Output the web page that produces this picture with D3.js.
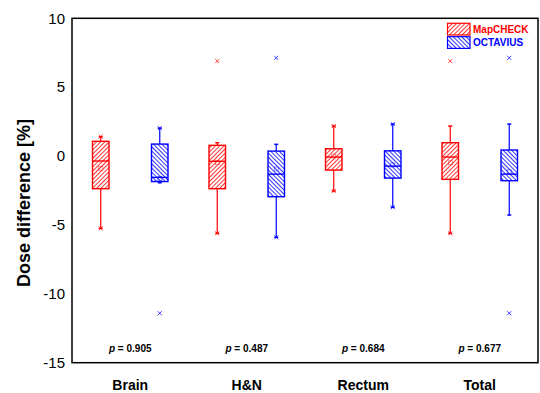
<!DOCTYPE html>
<html lang="en">
  <head>
    <meta charset="utf-8">
    <title>Dose difference</title>
    <script src="https://d3js.org/d3.v7.min.js"></script>
    <style>
      body { margin: 0; background: white; }
      text { font-family: Arial, "Liberation Sans", sans-serif; }
    </style>
  </head>
  <body>
    <script>
      const categories = ["Brain", "H&N", "Rectum", "Total"];
      const seriesNames = ["MapCHECK", "OCTAVIUS"];
      const seriesColors = ["#ff0000", "#0000ff"];
      const yTicks = [10, 5, 0, -5, -10, -15];
      const pValues = ["0.905", "0.487", "0.684", "0.677"];

      // box stats per category: [whiskerLow, q1, median, q3, whiskerHigh, mean]
      const mapcheck = [
        [-5.25, -2.37, -0.36, 1.07, 1.40, -0.89],
        [-5.61, -2.37, -0.38, 0.78, 0.97, -0.49],
        [-2.54, -1.02, -0.07, 0.53, 2.18, 0.0],
        [-5.61, -1.69, -0.07, 0.97, 2.18, -0.49]
      ];
      const octavius = [
        [-1.94, -1.85, -1.55, 0.87, 2.03, -1.62],
        [-5.90, -2.95, -1.31, 0.36, 0.85, -0.94],
        [-3.72, -1.60, -0.73, 0.38, 2.32, -0.65],
        [-4.28, -1.79, -1.31, 0.44, 2.32, -1.14]
      ];
      // min / max markers (x)
      const mapcheckExtremes = [[1.42, -5.25], [6.89, -5.61], [2.18, -2.54], [6.89, -5.61]];
      const octaviusExtremes = [[2.03, -11.41], [7.13, -5.90], [2.32, -3.72], [7.13, -11.41]];

      const width = 540, height = 393;
      const plotLeft = 72, plotRight = 538, plotTop = 18.3, plotBottom = 362.7;

      const svg = d3.select("body").append("svg")
                    .attr("width", width)
                    .attr("height", height);

      const defs = svg.append("defs");
      const hatch = (id, color, angle) => {
        const p = defs.append("pattern")
                      .attr("id", id)
                      .attr("patternUnits", "userSpaceOnUse")
                      .attr("width", 3).attr("height", 3)
                      .attr("patternTransform", `rotate(${angle})`);
        p.append("line")
         .attr("x1", 0.5).attr("y1", 0).attr("x2", 0.5).attr("y2", 3)
         .attr("stroke", color).attr("stroke-width", 0.8);
      };
      hatch("hatch0", seriesColors[0], 45);
      hatch("hatch1", seriesColors[1], -45);

      const x = d3.scaleBand().domain(categories).range([plotLeft, plotRight]);
      const y = d3.scaleLinear().domain([-15, 10]).range([plotBottom, plotTop]);
      const offset = [-29.5, 29.5];
      const boxW = 16.5;

      // frame
      svg.append("rect")
         .attr("x", plotLeft).attr("y", plotTop)
         .attr("width", plotRight - plotLeft).attr("height", plotBottom - plotTop)
         .attr("fill", "none").attr("stroke", "black").attr("stroke-width", 1.5);

      // y axis labels
      const yAxis = svg.append("g")
         .attr("transform", `translate(${plotLeft},0)`)
         .call(d3.axisLeft(y).tickValues(yTicks).tickSize(0).tickPadding(7)
                 .tickFormat(d => String(d)));
      yAxis.select(".domain").remove();
      yAxis.selectAll("text").attr("font-size", 15).attr("fill", "black")
           .style("font-family", "Arial, 'Liberation Sans', sans-serif");

      // category labels
      const xAxis = svg.append("g")
         .attr("transform", `translate(0,${plotBottom})`)
         .call(d3.axisBottom(x).tickSize(0).tickPadding(17));
      xAxis.select(".domain").remove();
      xAxis.selectAll("text").attr("font-size", 14).attr("font-weight", "bold").attr("fill", "black")
           .style("font-family", "Arial, 'Liberation Sans', sans-serif");

      // y title
      svg.append("text")
         .attr("transform", `translate(30,203) rotate(-90)`)
         .attr("text-anchor", "middle")
         .attr("font-size", 18).attr("font-weight", "bold")
         .text("Dose difference [%]");

      const allSeries = [mapcheck, octavius];
      const allExtremes = [mapcheckExtremes, octaviusExtremes];

      allSeries.forEach((series, si) => {
        const color = seriesColors[si];
        const g = svg.append("g");
        series.forEach((d, ci) => {
          const cx = x(categories[ci]) + x.bandwidth() / 2 + offset[si];
          const [lo, q1, med, q3, hi, mean] = d;
          // whiskers
          g.append("line").attr("x1", cx).attr("x2", cx).attr("y1", y(q3)).attr("y2", y(hi))
           .attr("stroke", color).attr("stroke-width", 1.2);
          g.append("line").attr("x1", cx).attr("x2", cx).attr("y1", y(q1)).attr("y2", y(lo))
           .attr("stroke", color).attr("stroke-width", 1.2);
          [lo, hi].forEach(v => {
            g.append("line").attr("x1", cx - 2).attr("x2", cx + 2).attr("y1", y(v)).attr("y2", y(v))
             .attr("stroke", color).attr("stroke-width", 1.5);
          });
          // box
          g.append("rect")
           .attr("x", cx - boxW / 2).attr("y", y(q3))
           .attr("width", boxW).attr("height", y(q1) - y(q3))
           .attr("fill", `url(#hatch${si})`)
           .attr("stroke", color).attr("stroke-width", 1.4);
          g.append("line").attr("x1", cx - boxW / 2).attr("x2", cx + boxW / 2)
           .attr("y1", y(med)).attr("y2", y(med))
           .attr("stroke", color).attr("stroke-width", 1.4);
          // mean
          g.append("rect").attr("x", cx - 2).attr("y", y(mean) - 2)
           .attr("width", 4).attr("height", 4)
           .attr("fill", "none").attr("stroke", color).attr("stroke-width", 0.7)
           .attr("stroke-opacity", 0.6);
          // extremes
          allExtremes[si][ci].forEach(v => {
            const yy = y(v);
            g.append("path")
             .attr("d", `M${cx - 2},${yy - 2}L${cx + 2},${yy + 2}M${cx - 2},${yy + 2}L${cx + 2},${yy - 2}`)
             .attr("stroke", color).attr("stroke-width", 1).attr("stroke-opacity", 0.75);
          });
        });
      });

      // p values
      const pText = svg.append("g").selectAll("text").data(pValues).enter().append("text")
         .attr("x", (d, i) => x(categories[i]) + x.bandwidth() / 2)
         .attr("y", y(-14.25))
         .attr("text-anchor", "middle")
         .attr("font-size", 10).attr("font-weight", "bold");
      pText.append("tspan").attr("font-style", "italic").text("p");
      pText.append("tspan").text(d => ` = ${d}`);

      // legend
      const legend = svg.append("g");
      seriesNames.forEach((name, i) => {
        const ly = 23.3 + i * 13.4;
        legend.append("rect").attr("x", 447.5).attr("y", ly)
              .attr("width", 22.5).attr("height", 11.7)
              .attr("fill", `url(#hatch${i})`)
              .attr("stroke", seriesColors[i]).attr("stroke-width", 1.2);
        legend.append("text").attr("x", 473).attr("y", ly + 9.5)
              .attr("font-size", 10).attr("font-weight", "bold")
              .attr("fill", seriesColors[i]).text(name);
      });
    </script>
  </body>
</html>
